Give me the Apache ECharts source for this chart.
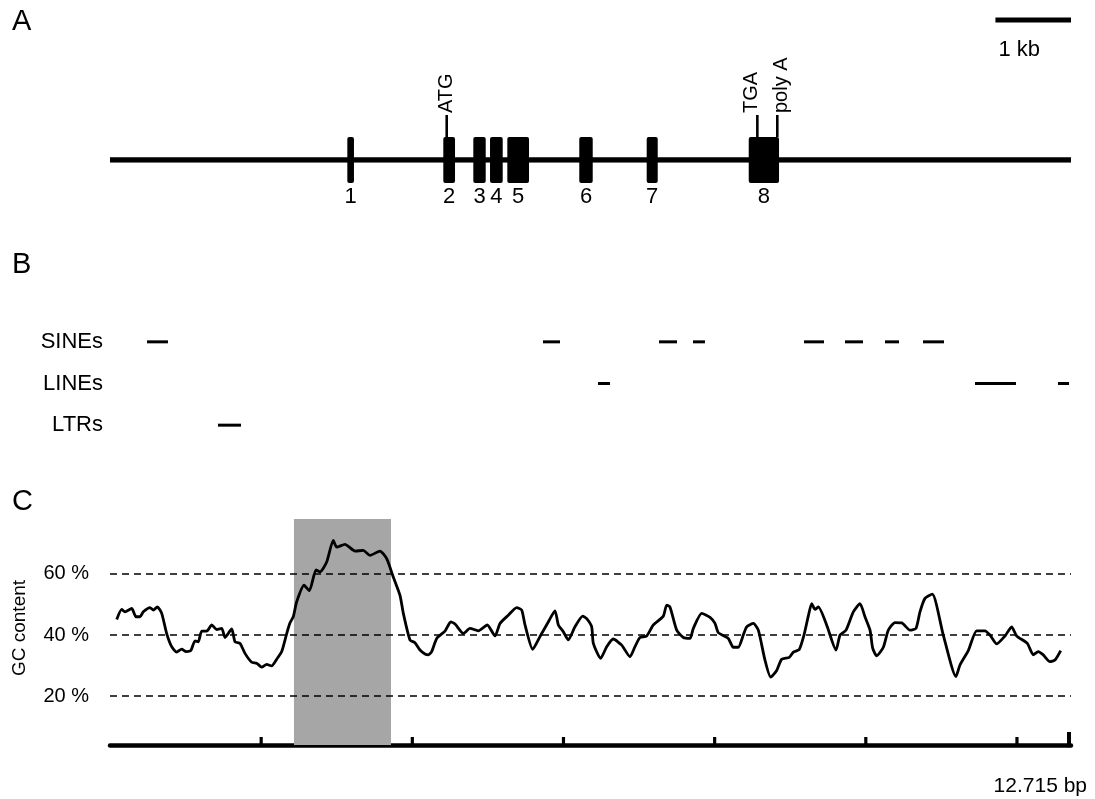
<!DOCTYPE html>
<html><head><meta charset="utf-8">
<script src="https://cdn.jsdelivr.net/npm/echarts@6/dist/echarts.min.js"></script>
<style>html,body{margin:0;padding:0;background:#fff}#c{width:1095px;height:799px}</style>
</head><body><div id="c"></div>
<script>
// ---------- data (bp positions, % GC) ----------
const geneLength = 12715;
const exonLabels = ['1','2','3','4','5','6','7','8'];
const exonStarts = [3140, 4410, 4807, 5028, 5257, 6209, 7101, 8451];
const exonEnds   = [3228, 4565, 4971, 5196, 5544, 6387, 7247, 8852];
const markerNames = ['ATG', 'TGA', 'poly A'];
const markerPos   = [4455, 8565, 8829];
const scaleBarStart = 11715, scaleBarEnd = 12715, scaleBarLabel = '1 kb';

const repeatTypes = ['SINEs', 'LINEs', 'LTRs'];
const sineStarts = [490, 5729, 7264, 7714, 9182, 9725, 10254, 10757];
const sineEnds   = [767, 5954, 7502, 7872, 9447, 9963, 10439, 11035];
const lineStarts = [6457, 11445, 12543];
const lineEnds   = [6616, 11987, 12689];
const ltrStarts  = [1429];
const ltrEnds    = [1733];

const highlightStart = 2434, highlightEnd = 3718;
const gcTicks = [20, 40, 60];
const bpTicks = [2000, 4000, 6000, 8000, 10000, 12000];

const gcPos = [89,155,198,287,344,397,441,529,573,626,684,750,816,882,949,1006,1068,1125,1168,1213,1279,1346,1412,1478,1522,1610,1654,1720,1786,1875,1941,2007,2073,2139,2206,2272,2338,2382,2425,2470,2567,2637,2726,2779,2867,2954,2999,3109,3242,3351,3440,3572,3661,3748,3837,3881,3969,4035,4102,4168,4211,4256,4323,4432,4508,4565,4675,4763,4873,4992,5094,5160,5270,5381,5447,5491,5593,5689,5799,5888,5932,5998,6064,6152,6254,6307,6373,6395,6492,6572,6659,6770,6880,6946,7012,7101,7189,7321,7366,7409,7498,7586,7674,7718,7829,7939,8005,8048,8181,8247,8313,8379,8424,8512,8578,8666,8742,8821,8887,8988,9041,9120,9182,9239,9284,9328,9372,9482,9606,9659,9738,9835,9923,9989,10056,10091,10144,10232,10298,10386,10475,10585,10664,10717,10783,10880,11025,11193,11246,11356,11467,11577,11643,11732,11842,11930,11996,12137,12216,12282,12348,12437,12503,12579];
const gcValues = [45.1,48.4,47.6,48.7,46.0,46.0,47.6,49.0,48.2,49.2,47.1,40.5,36.2,34.4,35.4,34.6,34.9,38.1,37.8,41.3,41.3,43.3,41.8,42.2,39.2,42.0,37.8,37.3,34.0,31.1,30.8,29.5,30.4,29.9,32.1,34.6,40.5,44.0,46.0,50.9,56.3,54.5,61.3,60.7,63.9,71.0,68.8,69.7,67.5,67.7,66.1,67.5,65.0,59.0,53.0,47.1,38.4,37.5,35.1,33.8,33.5,34.6,38.9,41.3,44.3,43.6,40.5,42.2,41.4,43.3,39.7,43.8,46.5,49.0,48.2,43.3,35.3,39.5,44.3,47.9,43.3,41.1,38.4,42.7,46.2,45.4,42.7,37.3,32.4,36.2,38.7,36.7,32.9,36.2,39.2,39.7,43.3,46.2,49.8,49.2,41.6,39.2,38.9,42.2,47.1,45.8,43.8,40.8,38.9,36.0,36.0,40.0,42.7,43.8,41.6,31.8,26.2,28.4,32.1,32.7,34.4,35.3,40.0,46.2,50.3,48.4,49.2,43.3,35.1,40.0,41.6,47.6,50.3,46.0,41.6,35.7,33.2,36.0,41.6,44.1,44.0,41.6,42.2,47.6,52.0,53.4,40.0,26.4,30.2,34.9,41.4,41.4,40.0,37.1,39.7,42.7,39.7,37.3,33.5,34.6,33.5,31.3,31.8,34.9];

// ---------- chart ----------
const FONT = 'Liberation Sans, Arial, sans-serif';
const chart = echarts.init(document.getElementById('c'), null, {renderer: 'canvas'});

const repeatData = [];
sineStarts.forEach((s, i) => repeatData.push([s, sineEnds[i], 0]));
lineStarts.forEach((s, i) => repeatData.push([s, lineEnds[i], 1]));
ltrStarts.forEach((s, i) => repeatData.push([s, ltrEnds[i], 2]));

const markerDx = {'ATG': 0, 'TGA': -6, 'poly A': 4};
const fmtBp = n => String(n).replace(/\B(?=(\d{3})+(?!\d))/g, '.') + ' bp';

const option = {
  animation: false,
  backgroundColor: '#fff',
  textStyle: {fontFamily: FONT},
  grid: [
    {left: 110, right: 24, top: 20, height: 140},
    {left: 110, right: 24, top: 321, height: 125},
    {left: 110, right: 24, top: 519, height: 226}
  ],
  xAxis: [
    {gridIndex: 0, type: 'value', min: 0, max: geneLength, show: false},
    {gridIndex: 1, type: 'value', min: 0, max: geneLength, show: false},
    {gridIndex: 2, type: 'value', min: 0, max: geneLength,
     axisLine: {show: true, onZero: false, lineStyle: {color: '#000', width: 4.5}},
     axisTick: {show: false}, axisLabel: {show: false}, splitLine: {show: false}}
  ],
  yAxis: [
    {gridIndex: 0, type: 'value', min: 0, max: 1, show: false},
    {gridIndex: 1, type: 'category', data: repeatTypes, inverse: true,
     axisLine: {show: false}, axisTick: {show: false}, splitLine: {show: false},
     axisLabel: {color: '#000', fontSize: 22, fontFamily: FONT, margin: 7}},
    {gridIndex: 2, type: 'value', min: 4, max: 78,
     axisLine: {show: false}, axisTick: {show: false}, splitLine: {show: false},
     axisLabel: {customValues: gcTicks,
                 formatter: '{value} %', color: '#000', fontSize: 20, fontFamily: FONT, margin: 21}}
  ],
  graphic: [
    {type: 'text', x: 12, y: 22, style: {text: 'A', fontSize: 29, fontFamily: FONT, fill: '#000', align: 'left', verticalAlign: 'middle'}},
    {type: 'text', x: 12, y: 265, style: {text: 'B', fontSize: 29, fontFamily: FONT, fill: '#000', align: 'left', verticalAlign: 'middle'}},
    {type: 'text', x: 12, y: 502, style: {text: 'C', fontSize: 29, fontFamily: FONT, fill: '#000', align: 'left', verticalAlign: 'middle'}},
    {type: 'text', x: 20, y: 628, rotation: Math.PI / 2, style: {text: 'GC content', fontSize: 19, fontFamily: FONT, fill: '#000', align: 'center', verticalAlign: 'middle'}},
    {type: 'text', x: 1087, y: 786, style: {text: fmtBp(geneLength), fontSize: 21, fontFamily: FONT, fill: '#000', align: 'right', verticalAlign: 'middle'}}
  ],
  series: [
    // gene backbone
    {type: 'line', xAxisIndex: 0, yAxisIndex: 0, data: [[0, 0], [geneLength, 0]],
     symbol: 'none', silent: true, lineStyle: {color: '#000', width: 5.5, cap: 'butt'}},
    // exons
    {type: 'custom', xAxisIndex: 0, yAxisIndex: 0, silent: true,
     data: exonStarts.map((s, i) => [s, exonEnds[i], i]),
     encode: {x: [0, 1]},
     renderItem: (params, api) => {
       const p1 = api.coord([api.value(0), 0]);
       const p2 = api.coord([api.value(1), 0]);
       const idx = api.value(2);
       return {type: 'group', children: [
         {type: 'rect', shape: {x: p1[0], y: p1[1] - 23, width: p2[0] - p1[0], height: 46, r: 2}, style: {fill: '#000'}},
         {type: 'text', style: {text: exonLabels[idx], x: (p1[0] + p2[0]) / 2, y: p1[1] + 37,
           align: 'center', verticalAlign: 'middle', fontSize: 22, fontFamily: FONT, fill: '#000'}}
       ]};
     }},
    // markers ATG / TGA / poly A
    {type: 'custom', xAxisIndex: 0, yAxisIndex: 0, silent: true,
     data: markerPos.map((p, i) => [p, i]),
     encode: {x: 0},
     renderItem: (params, api) => {
       const p = api.coord([api.value(0), 0]);
       const name = markerNames[api.value(1)];
       return {type: 'group', children: [
         {type: 'line', shape: {x1: p[0], y1: p[1] - 23, x2: p[0], y2: p[1] - 45}, style: {stroke: '#000', lineWidth: 2.6}},
         {type: 'text', x: p[0] + markerDx[name], y: p[1] - 47, rotation: Math.PI / 2,
          style: {text: name, x: 0, y: 0, align: 'left', verticalAlign: 'middle', fontSize: 20, fontFamily: FONT, fill: '#000'}}
       ]};
     }},
    // scale bar
    {type: 'custom', xAxisIndex: 0, yAxisIndex: 0, silent: true,
     data: [[scaleBarStart, scaleBarEnd]],
     encode: {x: [0, 1]},
     renderItem: (params, api) => {
       const p1 = api.coord([api.value(0), 1]);
       const p2 = api.coord([api.value(1), 1]);
       return {type: 'group', children: [
         {type: 'rect', shape: {x: p1[0], y: p1[1] - 2.5, width: p2[0] - p1[0], height: 5}, style: {fill: '#000'}},
         {type: 'text', style: {text: scaleBarLabel, x: p1[0] + 3, y: p1[1] + 30, align: 'left', verticalAlign: 'middle', fontSize: 22, fontFamily: FONT, fill: '#000'}}
       ]};
     }},
    // repeats
    {type: 'custom', xAxisIndex: 1, yAxisIndex: 1, silent: true,
     data: repeatData,
     encode: {x: [0, 1], y: 2},
     renderItem: (params, api) => {
       const row = api.value(2);
       const p1 = api.coord([api.value(0), row]);
       const p2 = api.coord([api.value(1), row]);
       return {type: 'rect', shape: {x: p1[0], y: p1[1] - 1.5, width: p2[0] - p1[0], height: 3}, style: {fill: '#000'}};
     }},
    // highlight + gridlines
    {type: 'line', xAxisIndex: 2, yAxisIndex: 2, data: [], silent: true,
     markArea: {silent: true, itemStyle: {color: '#a6a6a6', opacity: 1},
       data: [[{xAxis: highlightStart}, {xAxis: highlightEnd}]]},
     markLine: {silent: true, symbol: ['none', 'none'], label: {show: false},
       lineStyle: {color: '#000', width: 1.7, type: [7, 5]},
       emphasis: {disabled: true},
       data: gcTicks.map(v => ({yAxis: v}))}},
    // GC content line
    {type: 'line', xAxisIndex: 2, yAxisIndex: 2, z: 6, silent: true,
     data: gcPos.map((p, i) => [p, gcValues[i]]),
     symbol: 'none', smooth: 0.2,
     lineStyle: {color: '#000', width: 2.8, join: 'round'}},
    // axis ticks
    {type: 'custom', xAxisIndex: 2, yAxisIndex: 2, silent: true, z: 7,
     data: bpTicks.map(v => [v, 0]).concat([[geneLength, 1]]),
     encode: {x: 0},
     renderItem: (params, api) => {
       const p = api.coord([api.value(0), 4]);
       const isEnd = api.value(1) === 1;
       return isEnd
         ? {type: 'rect', shape: {x: p[0] - 4, y: p[1] - 13, width: 4, height: 15.25}, style: {fill: '#000'}}
         : {type: 'rect', shape: {x: p[0] - 1.6, y: p[1] - 8, width: 3.2, height: 8}, style: {fill: '#000'}};
     }}
  ]
};
chart.setOption(option);
</script>
</body></html>
